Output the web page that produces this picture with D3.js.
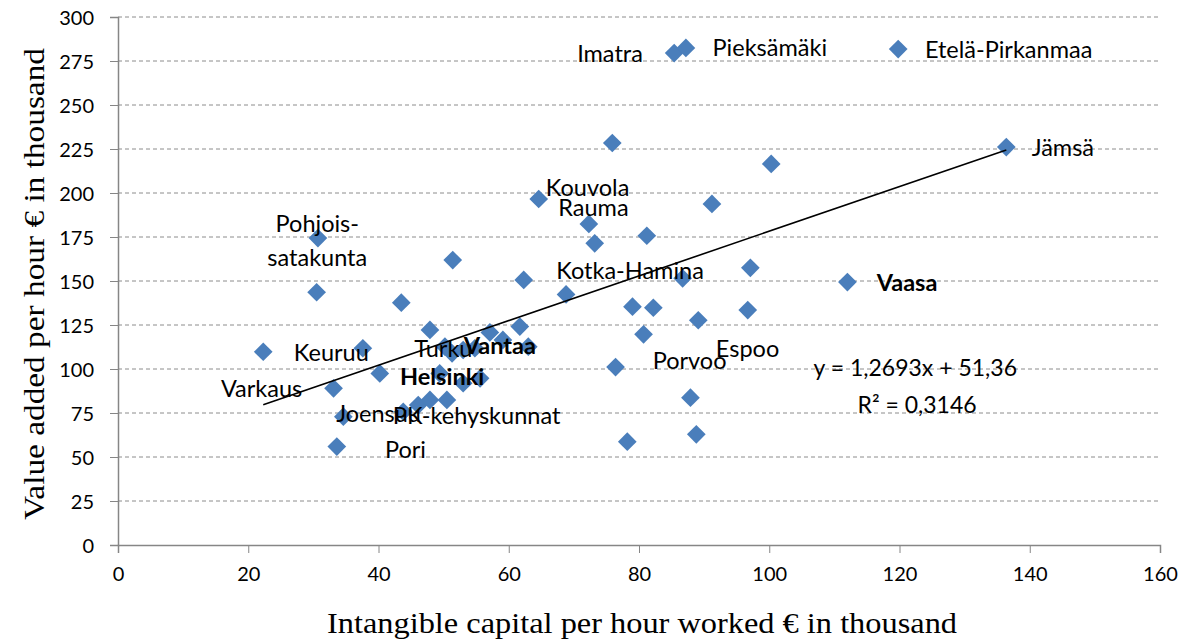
<!DOCTYPE html>
<html><head><meta charset="utf-8">
<script src="https://cdn.jsdelivr.net/npm/d3@7/dist/d3.min.js"></script>
<style>body{margin:0;background:#fff}svg{display:block}</style>
</head><body><svg id="c" width="1188" height="643"></svg>
<script>
// ---- data ----
const capitalX = [85.4,87.2,119.8,136.4,75.9,100.3,64.6,91.2,72.3,73.2,81.2,30.7,51.4,97.1,62.3,86.7,112.0,30.5,68.8,43.5,79.0,82.2,96.7,89.1,61.7,47.9,57.1,80.7,22.3,37.6,50.2,51.3,53.0,54.8,59.1,63.0,76.4,40.2,33.1,49.4,53.0,55.6,34.6,43.8,46.1,47.9,50.5,33.6,87.9,88.8,78.2];
const valueY   = [279.5,282.4,281.8,226.1,228.4,216.5,196.6,193.8,182.4,171.4,175.7,174.4,161.9,157.5,150.6,151.5,149.4,143.6,142.4,137.7,135.4,134.8,133.5,127.7,124.1,122.2,120.8,119.7,109.8,111.8,112.7,108.9,110.8,111.8,116.5,112.7,101.1,97.5,89.0,97.5,91.9,94.7,72.9,75.7,79.5,82.4,82.4,55.9,83.7,62.9,58.7];
const labelNames = ["Imatra","Pieksämäki","Etelä-Pirkanmaa","Jämsä","Kouvola","Rauma","Pohjois-","satakunta","Kotka-Hamina","Vaasa","Keuruu","Turku","Vantaa","Helsinki","Varkaus","Joensuu","PK-kehyskunnat","Pori","Porvoo","Espoo"];
const labelX = [70.5,91.3,123.9,140.3,65.7,67.6,30.6,30.6,67.3,116.5,27.0,45.5,53.1,43.3,15.8,33.5,42.2,41.0,82.1,91.8];
const labelY = [279.0,282.4,281.2,225.6,202.8,191.5,182.4,163.1,155.7,148.9,109.1,111.4,113.1,95.5,88.6,74.4,73.3,54.0,104.5,111.4];
const labelBold = ["Vaasa","Vantaa","Helsinki"];
const labelCentered = ["Pohjois-","satakunta"];
const xTicks = [0,20,40,60,80,100,120,140,160];
const yTicks = [0,25,50,75,100,125,150,175,200,225,250,275,300];
const trendSlope = 1.2693, trendIntercept = 51.36;
const equationText = "y = 1,2693x + 51,36";
const r2Text = "R² = 0,3146";
const xTitle = "Intangible capital per hour worked € in thousand";
const yTitle = "Value added per hour € in thousand";

// ---- layout ----
const svg = d3.select("#c");
const x = d3.scaleLinear().domain([0,160]).range([118,1160]);
const y = d3.scaleLinear().domain([0,300]).range([545,17]);
const font = "Lato, 'Noto Sans', sans-serif";
const serif = "'Liberation Serif', 'DejaVu Serif', serif";

// gridlines
svg.append("g").selectAll("line").data(yTicks.filter(d=>d>0)).join("line")
  .attr("x1",x(0)).attr("x2",x(160)).attr("y1",d=>y(d)).attr("y2",d=>y(d))
  .attr("stroke","#8c8c8c").attr("stroke-width",1).attr("stroke-dasharray","4,3");

// axes
const gx = svg.append("g").attr("transform",`translate(0,${y(0)})`)
  .call(d3.axisBottom(x).tickValues(xTicks).tickSize(8).tickPadding(14).tickFormat(d3.format("d")));
const gy = svg.append("g").attr("transform",`translate(${x(0)},0)`)
  .call(d3.axisLeft(y).tickValues(yTicks).tickSize(8).tickPadding(16).tickFormat(d3.format("d")));
[gx,gy].forEach(g=>{
  g.select(".domain").attr("stroke","#868686").attr("stroke-width",1.5);
  g.selectAll(".tick line").attr("stroke","#868686").attr("stroke-width",1);
  g.selectAll(".tick text").attr("font-family",font).attr("font-size",20).attr("fill","#000");
});
gx.selectAll(".tick text").attr("dy","0.71em");
gy.selectAll(".tick text").attr("dy","0.35em");

// points
svg.append("g").selectAll("path").data(d3.range(capitalX.length)).join("path")
  .attr("d", d3.symbol(d3.symbolSquare, 175))
  .attr("transform", i=>`translate(${x(capitalX[i])},${y(valueY[i])}) rotate(45)`)
  .attr("fill","#4a7ebb");

// trend line
const xmin = d3.min(capitalX), xmax = d3.max(capitalX);
svg.append("line")
  .attr("x1",x(xmin)).attr("y1",y(trendSlope*xmin+trendIntercept))
  .attr("x2",x(xmax)).attr("y2",y(trendSlope*xmax+trendIntercept))
  .attr("stroke","#000").attr("stroke-width",1.6);

// labels
svg.append("g").selectAll("text").data(d3.range(labelNames.length)).join("text")
  .attr("x",i=>x(labelX[i])).attr("y",i=>y(labelY[i])).attr("dy","0.35em")
  .attr("text-anchor",i=>labelCentered.includes(labelNames[i])?"middle":"start")
  .attr("font-family",font).attr("font-size",23.5)
  .attr("font-weight",i=>labelBold.includes(labelNames[i])?"bold":"normal")
  .text(i=>labelNames[i]);

// equation
svg.append("text").attr("x",x(106.8)).attr("y",y(100.5)).attr("dy","0.35em")
  .attr("font-family",font).attr("font-size",23).text(equationText);
svg.append("text").attr("x",x(122.7)).attr("y",y(79.5)).attr("dy","0.35em")
  .attr("text-anchor","middle").attr("font-family",font).attr("font-size",23).text(r2Text);

// titles
svg.append("text").attr("x",642).attr("y",633).attr("text-anchor","middle")
  .attr("font-family",serif).attr("font-size",30)
  .attr("textLength",630).attr("lengthAdjust","spacingAndGlyphs").text(xTitle);
svg.append("text").attr("transform","translate(44,284) rotate(-90)").attr("text-anchor","middle")
  .attr("font-family",serif).attr("font-size",30)
  .attr("textLength",472).attr("lengthAdjust","spacingAndGlyphs").text(yTitle);
</script></body></html>
